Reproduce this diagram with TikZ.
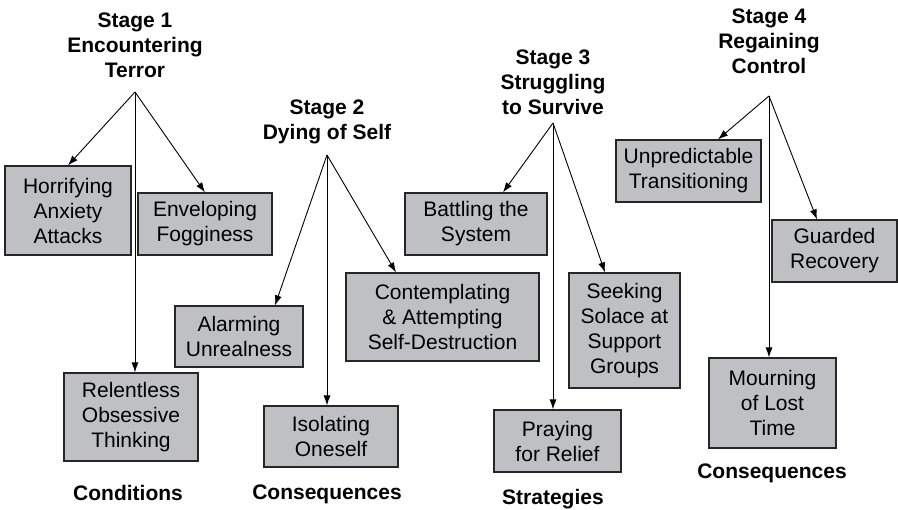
\documentclass[tikz,border=0pt]{standalone}
\usepackage{fontspec}
\setmainfont{Liberation Sans}
\usepackage{tikz}
\usepackage{xcolor}
\usetikzlibrary{arrows.meta}
\definecolor{boxgray}{RGB}{191,192,196}
\tikzset{>={Latex[length=10pt,width=7pt]}}
\tikzset{
    block/.style = {draw=black!85, fill=boxgray, rectangle,
        line width=1.2pt, inner sep=0pt, align=center,
        font=\fontsize{21}{25}\selectfont},
    stage/.style = {align=center, font=\fontsize{21}{25}\selectfont\bfseries},
    group/.style = {font=\fontsize{21}{25}\selectfont\bfseries},
    arrow/.style = {draw, ->, line width=0.9pt}
}

\begin{document}
\begin{tikzpicture}[x=1pt, y=-1pt]
            \useasboundingbox (0,0) rectangle (898,510);
            % stage titles
            \node [stage] (stage1) at (135,45) {Stage 1\\Encountering\\Terror};
            \node [stage] (stage2) at (327,122) {Stage 2\\Dying of Self};
            \node [stage] (stage3) at (553,82) {Stage 3\\Struggling\\to Survive};
            \node [stage] (stage4) at (769,41) {Stage 4\\Regaining\\Control};
            \coordinate (top1) at (135,92);
            \coordinate (top2) at (327,155);
            \coordinate (top3) at (553,123);
            \coordinate (top4) at (769,96);
            % stage 1
            \node [block, minimum width=126pt, minimum height=89pt] (horrify) at (68,210.5) {Horrifying\\Anxiety\\Attacks};
            \node [block, minimum width=134pt, minimum height=62pt] (envelop) at (205,224) {Enveloping\\Fogginess};
            \node [block, minimum width=134pt, minimum height=88pt] (relent) at (131,417) {Relentless\\Obsessive\\Thinking};
            % stage 2
            \node [block, minimum width=128pt, minimum height=61pt] (alarm) at (239,336.5) {Alarming\\Unrealness};
            \node [block, minimum width=134pt, minimum height=61pt] (isolate) at (331,436.5) {Isolating\\Oneself};
            \node [block, minimum width=193pt, minimum height=88pt] (contemp) at (442.5,317) {Contemplating\\\& Attempting\\Self-Destruction};
            % stage 3
            \node [block, minimum width=142pt, minimum height=62pt] (battle) at (476,224) {Battling the\\System};
            \node [block, minimum width=111pt, minimum height=115pt] (seek) at (624.5,330.5) {Seeking\\Solace at\\Support\\Groups};
            \node [block, minimum width=127pt, minimum height=62pt] (pray) at (557.5,441) {Praying\\for Relief};
            % stage 4
            \node [block, minimum width=145pt, minimum height=62pt] (unpred) at (688.5,171) {Unpredictable\\Transitioning};
            \node [block, minimum width=125pt, minimum height=62pt] (guard) at (834.5,251) {Guarded\\Recovery};
            \node [block, minimum width=127pt, minimum height=90pt] (mourn) at (772.5,403) {Mourning\\of Lost\\Time};
            % group labels
            \node [group] (cond) at (128,493) {Conditions};
            \node [group] (conseq1) at (327,494) {Consequences};
            \node [group] (strat) at (553,499) {Strategies};
            \node [group] (conseq2) at (772,473) {Consequences};
            % connectors
            \draw [arrow] (top1) -- (horrify.north);
            \draw [arrow] (top1) -- (envelop.north);
            \draw [arrow] (top1) -- (top1 |- relent.north);
            \draw [arrow] (top2) -- ([xshift=36pt]alarm.north);
            \draw [arrow] (top2) -- (top2 |- isolate.north);
            \draw [arrow] (top2) -- ([xshift=-46.5pt]contemp.north);
            \draw [arrow] (top3) -- ([xshift=27pt]battle.north);
            \draw [arrow] (top3) -- ([xshift=-19.5pt]seek.north);
            \draw [arrow] (top3) -- (top3 |- pray.north);
            \draw [arrow] (top4) -- ([xshift=29.5pt]unpred.north);
            \draw [arrow] (top4) -- ([xshift=-17.5pt]guard.north);
            \draw [arrow] (top4) -- (top4 |- mourn.north);
        \end{tikzpicture}
\end{document}
